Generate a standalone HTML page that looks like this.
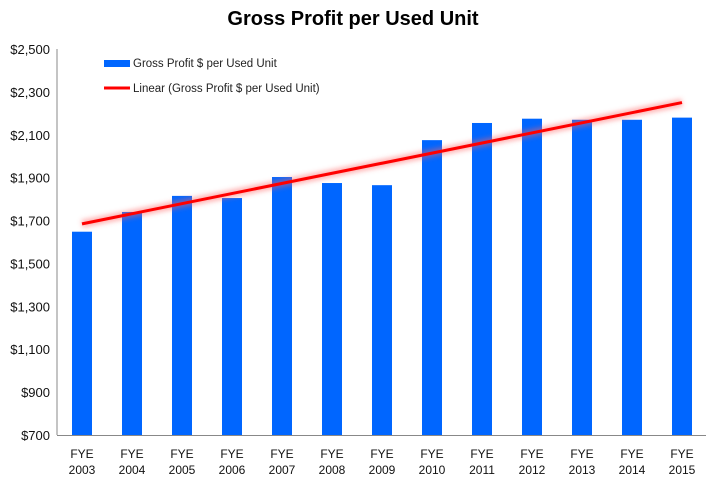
<!DOCTYPE html>
<html><head><meta charset="utf-8"><style>
body{margin:0;background:#fff;}
svg{display:block;font-family:"Liberation Sans",sans-serif;}
</style></head><body>
<svg id="chart" width="706" height="481" viewBox="0 0 706 481">
<defs><filter id="glow" x="-10%" y="-50%" width="120%" height="200%"><feGaussianBlur stdDeviation="2.5"/></filter></defs>
<text x="353" y="25" text-anchor="middle" font-size="20" font-weight="bold" fill="#000">Gross Profit per Used Unit</text>
<g id="yaxis"></g>
<g id="bars"></g>
<g id="trend"></g>
<g id="xaxis"></g>
<g>
<rect x="104" y="60" width="26" height="7" fill="#0066ff"/>
<text x="133" y="67" font-size="11.5" fill="#222">Gross Profit $ per Used Unit</text>
<line x1="104" y1="88" x2="130" y2="88" stroke="#ff0000" stroke-width="3"/>
<text x="133" y="92" font-size="11.5" fill="#222">Linear (Gross Profit $ per Used Unit)</text>
</g>
</svg>
<script>
const categories=["2003","2004","2005","2006","2007","2008","2009","2010","2011","2012","2013","2014","2015"];
const values=[1648,1740,1815,1805,1903,1875,1865,2075,2155,2175,2170,2170,2180];
const yTicks=[700,900,1100,1300,1500,1700,1900,2100,2300,2500];
const yTickLabels=["$700","$900","$1,100","$1,300","$1,500","$1,700","$1,900","$2,100","$2,300","$2,500"];
const NS="http://www.w3.org/2000/svg";
const L=57,R=707,T=49,B=435,yMin=700,yMax=2500;
const bw=(R-L)/categories.length;
const y=v=>B-(v-yMin)/(yMax-yMin)*(B-T);
const x=i=>L+bw*(i+0.5);
function mk(tag,attrs,parent){const e=document.createElementNS(NS,tag);for(const k in attrs)e.setAttribute(k,attrs[k]);parent.appendChild(e);return e;}
const ya=document.getElementById('yaxis'),xa=document.getElementById('xaxis'),bars=document.getElementById('bars'),tr=document.getElementById('trend');
yTicks.forEach((t,i)=>{const tx=mk('text',{x:L-7,y:y(t)+5,'text-anchor':'end','font-size':'13',fill:'#111'},ya);


tx.textContent=yTickLabels[i];});
values.forEach((v,i)=>{const r=mk('rect',{x:x(i)-10,y:y(v),width:20,height:B-y(v),fill:'#0066ff'},bars);

});
// linear regression trendline
const n=values.length;let sx=0,sy=0,sxy=0,sxx=0;values.forEach((v,i)=>{sx+=i;sy+=v;sxy+=i*v;sxx+=i*i;});
const m=(n*sxy-sx*sy)/(n*sxx-sx*sx),b=(sy-m*sx)/n;
const g=mk('line',{x1:x(0),y1:y(b),x2:x(n-1),y2:y(b+m*(n-1)),stroke:'#ff6060','stroke-width':8,'stroke-opacity':0.45,filter:'url(#glow)'},tr);


const ln=mk('line',{x1:x(0),y1:y(b),x2:x(n-1),y2:y(b+m*(n-1)),stroke:'#ff0000','stroke-width':3},tr);


const ax=mk('line',{x1:L,y1:T,x2:L,y2:B,stroke:'#888','stroke-width':1},ya);


const bx=mk('line',{x1:L,y1:B+0.5,x2:R,y2:B+0.5,stroke:'#888','stroke-width':1},xa);


categories.forEach((c,i)=>{const t=mk('text',{x:x(i),y:B+23,'text-anchor':'middle','font-size':'12',fill:'#111'},xa);


mk('tspan',{x:x(i),dy:0},t).textContent='FYE';
mk('tspan',{x:x(i),dy:16},t).textContent=c;});
</script>
</body></html>
